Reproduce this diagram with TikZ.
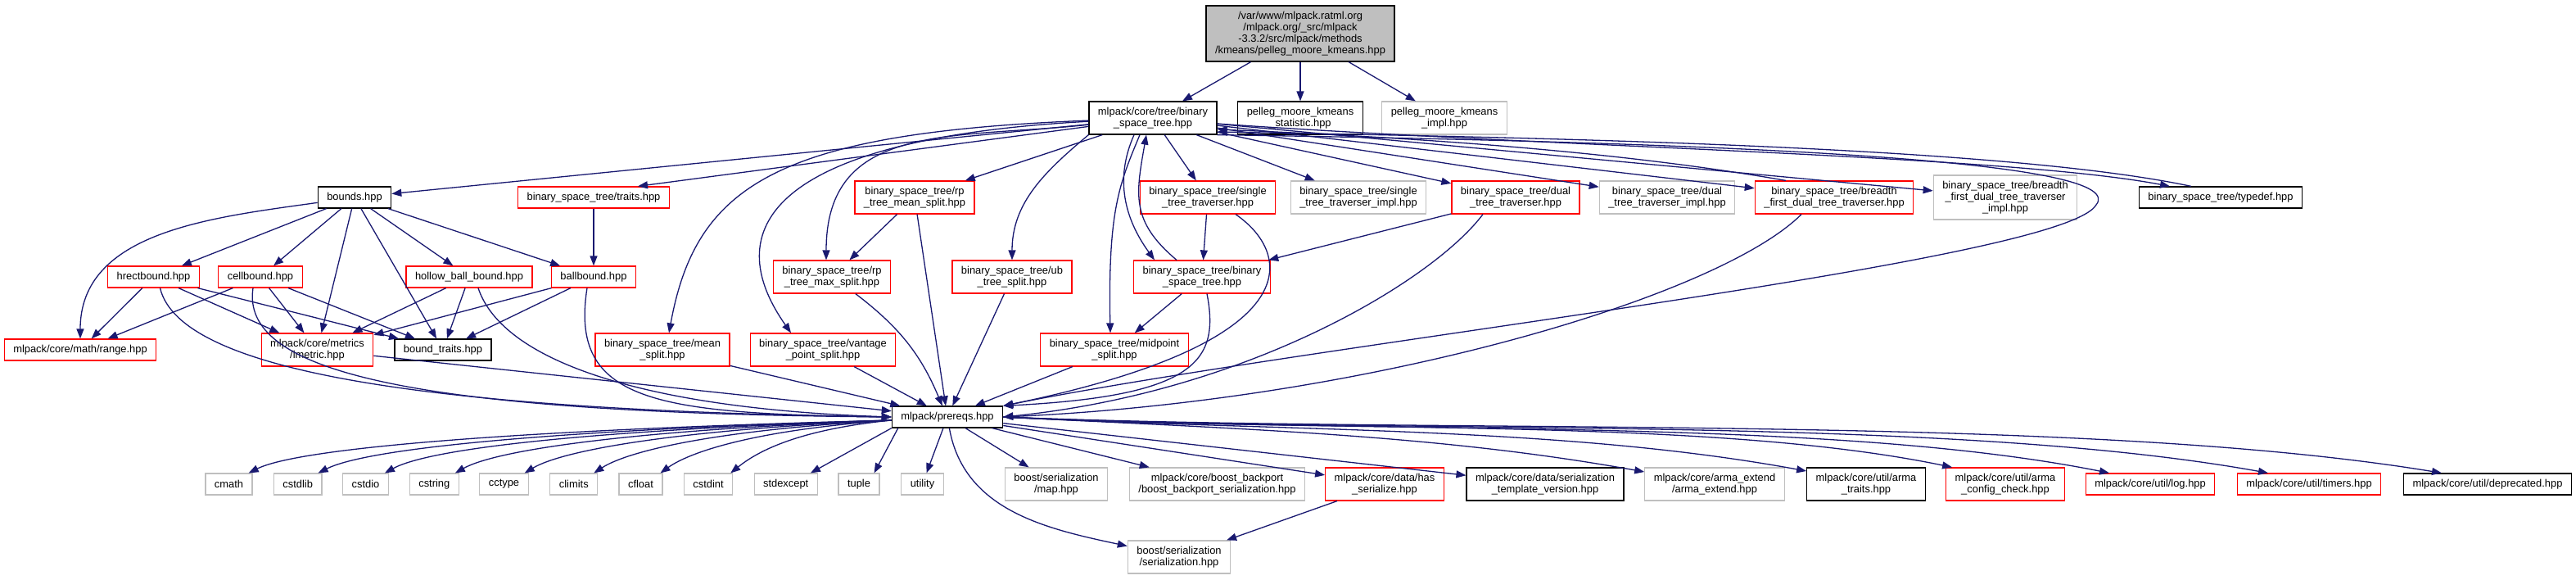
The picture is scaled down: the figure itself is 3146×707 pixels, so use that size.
\documentclass[tikz,border=0pt]{standalone}
\usepackage{fontspec}
\setmainfont{Liberation Sans}
\usetikzlibrary{arrows.meta}
\definecolor{edgeblue}{HTML}{191970}
\definecolor{grey75}{HTML}{BFBFBF}

\begin{document}
\begin{tikzpicture}[x=1pt,y=-1pt,
  file/.style={draw,rectangle,fill=white,align=center,font=\fontsize{12.9}{14}\selectfont,
               inner xsep=11pt,inner ysep=1pt,minimum height=26pt,line width=1.2pt},
  redfile/.style={file,draw=red},
  grayfile/.style={file,draw=grey75},
  blackfile/.style={file,draw=black},
  rootfile/.style={file,draw=black,fill=grey75},
  lines2/.style={minimum height=40pt},
  lines3/.style={minimum height=54pt},
  lines4/.style={minimum height=68pt},
  edge/.style={draw=edgeblue,line width=1.3pt,-{Triangle[length=12pt,width=9pt]}}]
\useasboundingbox (0,0) rectangle (3146,707);

\node[rootfile,lines4] (root) at (1588,41) {/var/www/mlpack.ratml.org\\/mlpack.org/\_src/mlpack\\-3.3.2/src/mlpack/methods\\/kmeans/pelleg\_moore\_kmeans.hpp};

\node[blackfile,lines2] (main) at (1408,144) {mlpack/core/tree/binary\\\_space\_tree.hpp};
\node[blackfile,lines2] (statistic) at (1588,144) {pelleg\_moore\_kmeans\\\_statistic.hpp};
\node[grayfile,lines2] (impl) at (1764,144) {pelleg\_moore\_kmeans\\\_impl.hpp};

\node[blackfile] (bounds) at (433,241) {bounds.hpp};
\node[redfile] (traits) at (725,241) {binary\_space\_tree/traits.hpp};
\node[redfile,lines2] (rpmean) at (1117,241) {binary\_space\_tree/rp\\\_tree\_mean\_split.hpp};
\node[redfile,lines2] (single) at (1475,241) {binary\_space\_tree/single\\\_tree\_traverser.hpp};
\node[grayfile,lines2] (singleimpl) at (1659,241) {binary\_space\_tree/single\\\_tree\_traverser\_impl.hpp};
\node[redfile,lines2] (dual) at (1851,241) {binary\_space\_tree/dual\\\_tree\_traverser.hpp};
\node[grayfile,lines2] (dualimpl) at (2036,241) {binary\_space\_tree/dual\\\_tree\_traverser\_impl.hpp};
\node[redfile,lines2] (bft) at (2240,241) {binary\_space\_tree/breadth\\\_first\_dual\_tree\_traverser.hpp};
\node[grayfile,lines3] (bftimpl) at (2449,241) {binary\_space\_tree/breadth\\\_first\_dual\_tree\_traverser\\\_impl.hpp};
\node[blackfile] (typedef) at (2712,241) {binary\_space\_tree/typedef.hpp};

\node[redfile] (hrect) at (187.5,338) {hrectbound.hpp};
\node[redfile] (cell) at (318,338) {cellbound.hpp};
\node[redfile] (hollow) at (573,338) {hollow\_ball\_bound.hpp};
\node[redfile] (ball) at (725,338) {ballbound.hpp};
\node[redfile,lines2] (rpmax) at (1016,338) {binary\_space\_tree/rp\\\_tree\_max\_split.hpp};
\node[redfile,lines2] (ub) at (1236,338) {binary\_space\_tree/ub\\\_tree\_split.hpp};
\node[redfile,lines2] (bst) at (1468,338) {binary\_space\_tree/binary\\\_space\_tree.hpp};

\node[redfile] (range) at (98,427) {mlpack/core/math/range.hpp};
\node[redfile,lines2] (lmetric) at (387.5,427) {mlpack/core/metrics\\/lmetric.hpp};
\node[blackfile] (btraits) at (541,427) {bound\_traits.hpp};
\node[redfile,lines2] (meansplit) at (809,427) {binary\_space\_tree/mean\\\_split.hpp};
\node[redfile,lines2] (vantage) at (1005,427) {binary\_space\_tree/vantage\\\_point\_split.hpp};
\node[redfile,lines2] (midpoint) at (1361,427) {binary\_space\_tree/midpoint\\\_split.hpp};

\node[blackfile] (prereqs) at (1157,509) {mlpack/prereqs.hpp};

\node[grayfile] (cmath) at (279.5,591) {cmath};
\node[grayfile] (cstdlib) at (363.7,591) {cstdlib};
\node[grayfile] (cstdio) at (446.5,591) {cstdio};
\node[grayfile] (cstring) at (530.3,591) {cstring};
\node[grayfile] (cctype) at (615.5,591) {cctype};
\node[grayfile] (climits) at (700.8,591) {climits};
\node[grayfile] (cfloat) at (782.5,591) {cfloat};
\node[grayfile] (cstdint) at (865,591) {cstdint};
\node[grayfile] (stdexcept) at (959.7,591) {stdexcept};
\node[grayfile] (tuple) at (1049,591) {tuple};
\node[grayfile] (utility) at (1126.5,591) {utility};
\node[grayfile,lines2] (map) at (1290,591) {boost/serialization\\/map.hpp};
\node[grayfile,lines2] (backport) at (1486.5,591) {mlpack/core/boost\_backport\\/boost\_backport\_serialization.hpp};
\node[redfile,lines2] (hasser) at (1691,591) {mlpack/core/data/has\\\_serialize.hpp};
\node[blackfile,lines2] (stv) at (1887,591) {mlpack/core/data/serialization\\\_template\_version.hpp};
\node[grayfile,lines2] (armaext) at (2094,591) {mlpack/core/arma\_extend\\/arma\_extend.hpp};
\node[blackfile,lines2] (armatraits) at (2279,591) {mlpack/core/util/arma\\\_traits.hpp};
\node[redfile,lines2] (armacfg) at (2449,591) {mlpack/core/util/arma\\\_config\_check.hpp};
\node[redfile] (log) at (2626,591) {mlpack/core/util/log.hpp};
\node[redfile] (timers) at (2820,591) {mlpack/core/util/timers.hpp};
\node[blackfile] (deprecated) at (3038,591) {mlpack/core/util/deprecated.hpp};

\node[grayfile,lines2] (serial) at (1440,680) {boost/serialization\\/serialization.hpp};

% top file
\draw[edge] (root) -- (main);
\draw[edge] (root) -- (statistic);
\draw[edge] (root) -- (impl);

% binary_space_tree.hpp
\draw[edge] (main) -- (bounds);
\draw[edge] (main) -- ([xshift=54pt]traits.north);
\draw[edge] (main) .. controls (950,162) and (850,225) .. ([xshift=8pt]meansplit.north);
\draw[edge] (main) .. controls (960,168) and (870,270) .. ([xshift=-39pt]vantage.north);
\draw[edge] (main) to[out=186,in=90,looseness=1.2] ([xshift=-7pt]rpmax.north);
\draw[edge] (main) -- (rpmean);
\draw[edge] (main.south west) to[out=-140,in=90] (ub);
\draw[edge] ([xshift=-23pt]main.south) to[out=-114,in=126] ([xshift=-58pt]bst.north);
\draw[edge] ([xshift=-31pt]bst.north) to[out=140,in=-100,looseness=1.2] ([xshift=-8pt]main.south);
\draw[edge] ([xshift=-16pt]main.south) .. controls +(-25,60) and +(-3,-150) .. ([xshift=-5pt]midpoint.north);
\draw[edge] (main) -- (single);
\draw[edge] (main) -- (singleimpl);
\draw[edge] (main) -- (dual);
\draw[edge] (main) -- (dualimpl);
\draw[edge] (main) -- (bft);
\draw[edge] ([xshift=-59pt]bft.north) .. controls +(-200,-35) and +(250,10) .. ([yshift=-14pt]main.east);
\draw[edge] (main) -- (bftimpl);
\draw[edge] ([yshift=-7pt]main.east) .. controls +(413,29) and +(-200,-38) .. ([xshift=-62pt]typedef.north);
\draw[edge] ([xshift=-36pt]typedef.north) .. controls +(-226,-48) and +(413,7) .. ([yshift=-17pt]main.east);
\draw[edge] (main.south east) .. controls (2200,175) and (2600,200) .. (2560,250)
  .. controls (2520,320) and (1600,420) .. (prereqs.north east);

% bounds
\draw[edge] (bounds) to[out=188,in=90] (range);
\draw[edge] (bounds) -- (hrect);
\draw[edge] (bounds) -- (cell);
\draw[edge] (bounds) -- (lmetric);
\draw[edge] (bounds) -- (btraits);
\draw[edge] (bounds) -- (hollow);
\draw[edge] (bounds) -- (ball);
\draw[edge] (traits) -- (ball);

\draw[edge] (hrect) -- (range);
\draw[edge] (hrect) -- (lmetric);
\draw[edge] (hrect) -- (btraits);
\draw[edge] ([xshift=8pt]hrect.south) .. controls +(25,105) and +(-550,-8) .. (prereqs.west);
\draw[edge] (cell) -- (range);
\draw[edge] (cell) -- (lmetric);
\draw[edge] (cell) -- (btraits);
\draw[edge] ([xshift=-9pt]cell.south) .. controls +(-15,100) and +(-600,-5) .. (prereqs.west);
\draw[edge] (hollow) -- (lmetric);
\draw[edge] (hollow) -- (btraits);
\draw[edge] ([xshift=11pt]hollow.south) .. controls +(30,90) and +(-300,-10) .. (prereqs.west);
\draw[edge] (ball) -- (lmetric);
\draw[edge] (ball) -- (btraits);
\draw[edge] ([xshift=-8pt]ball.south) .. controls +(-22,139) and +(-289,-4) .. (prereqs.west);
\draw[edge] (lmetric) -- (prereqs);

% splits and traversers
\draw[edge] (rpmean) -- (rpmax);
\draw[edge] (rpmean) -- (prereqs);
\draw[edge] (rpmax) to[bend left=15] (prereqs);
\draw[edge] (meansplit) -- (prereqs);
\draw[edge] (vantage) -- (prereqs);
\draw[edge] (ub) -- (prereqs);
\draw[edge] (bst) -- (midpoint);
\draw[edge] ([xshift=6pt]bst.south) .. controls +(16,82) and +(235,-12) .. (prereqs.north east);
\draw[edge] (midpoint) -- (prereqs);
\draw[edge] (single) -- (bst);
\draw[edge] ([xshift=34pt]single.south) .. controls +(71,49) and +(375,-77) .. (prereqs.north east);
\draw[edge] (dual) -- (bst);
\draw[edge] ([xshift=-40pt]dual.south) .. controls +(-60,80) and +(300,-30) .. (prereqs.east);
\draw[edge] ([xshift=-40pt]bft.south) .. controls +(-100,100) and +(450,-20) .. (prereqs.east);

% prereqs.hpp
\draw[edge] ([yshift=-4pt]prereqs.west) .. controls +(-470,12) and +(60,-30) .. ([xshift=-5pt]cmath.north east);
\draw[edge] ([yshift=-4pt]prereqs.west) .. controls +(-420,12) and +(60,-30) .. ([xshift=-5pt]cstdlib.north east);
\draw[edge] ([yshift=-4pt]prereqs.west) .. controls +(-370,12) and +(55,-30) .. ([xshift=-5pt]cstdio.north east);
\draw[edge] ([yshift=-4pt]prereqs.west) .. controls +(-320,12) and +(50,-28) .. ([xshift=-5pt]cstring.north east);
\draw[edge] ([yshift=-4pt]prereqs.west) .. controls +(-270,12) and +(45,-27) .. ([xshift=-5pt]cctype.north east);
\draw[edge] ([yshift=-4pt]prereqs.west) .. controls +(-220,12) and +(40,-26) .. ([xshift=-5pt]climits.north east);
\draw[edge] ([yshift=-4pt]prereqs.west) .. controls +(-170,12) and +(35,-25) .. ([xshift=-3pt]cfloat.north east);
\draw[edge] ([yshift=-4pt]prereqs.west) .. controls +(-120,12) and +(30,-24) .. ([xshift=-3pt]cstdint.north east);
\draw[edge] (prereqs.south west) -- ([xshift=-9pt]stdexcept.north east);
\draw[edge] ([xshift=8pt]prereqs.south west) -- ([xshift=-7pt]tuple.north east);
\draw[edge] (prereqs) -- (utility);
\draw[edge] (prereqs) to[out=-80,in=168] (serial);
\draw[edge] (prereqs) -- (map);
\draw[edge] (prereqs) -- (backport);
\draw[edge] (prereqs) -- (hasser);
\draw[edge] (prereqs) -- (stv);
\draw[edge] (prereqs.east) .. controls +(300,15) and +(-250,-45) .. ([yshift=15pt]armaext.west);
\draw[edge] (prereqs.east) .. controls +(350,18) and +(-300,-55) .. ([yshift=16pt]armatraits.west);
\draw[edge] (prereqs.east) .. controls +(400,20) and +(-300,-62) .. ([xshift=8pt]armacfg.north west);
\draw[edge] (prereqs.east) .. controls +(450,22) and +(-350,-70) .. ([xshift=-50pt]log.north);
\draw[edge] (prereqs.east) .. controls +(500,22) and +(-400,-72) .. ([xshift=-50pt]timers.north);
\draw[edge] (prereqs.east) .. controls +(550,22) and +(-450,-74) .. ([xshift=-56pt]deprecated.north);
\draw[edge] (hasser) -- (serial);
\end{tikzpicture}
\end{document}
